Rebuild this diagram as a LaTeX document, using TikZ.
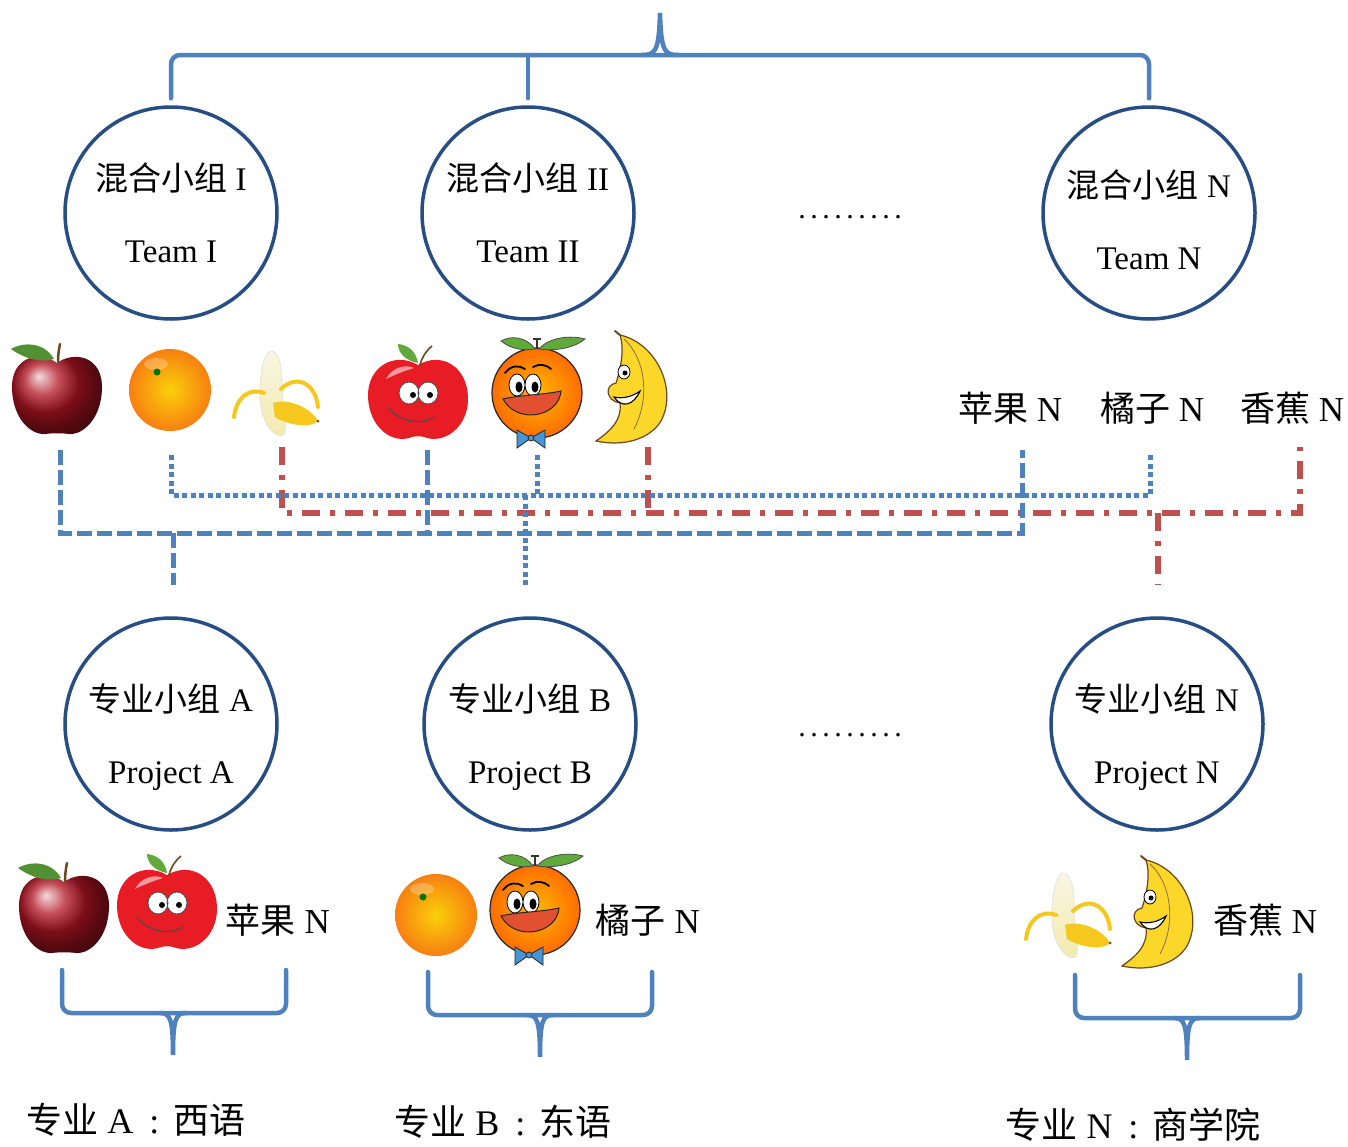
\documentclass[tikz,border=0pt]{standalone}
\usepackage{fontspec}
\setmainfont{Liberation Serif}
\newfontfamily\cjk{Noto Sans CJK SC}

\definecolor{ringblue}{RGB}{38,78,132}
\definecolor{lineblue}{RGB}{79,129,189}
\definecolor{linered}{RGB}{192,80,77}
\definecolor{applered}{RGB}{178,20,34}
\definecolor{toonred}{RGB}{232,28,36}
\definecolor{leafgreen}{RGB}{96,170,60}
\definecolor{stembrown}{RGB}{110,70,30}
\definecolor{orangeskin}{RGB}{245,150,20}
\definecolor{cream}{RGB}{240,232,190}
\definecolor{peelyellow}{RGB}{246,200,30}
\definecolor{bananayellow}{RGB}{250,215,40}
\definecolor{mouthred}{RGB}{226,80,50}
\definecolor{bowblue}{RGB}{70,150,215}

\newcommand{\ellipsisrow}{.\kern4.5pt.\kern4.5pt.\kern4.5pt.\kern4.5pt.\kern4.5pt.\kern4.5pt.\kern4.5pt.\kern4.5pt.}
\newcommand{\majorcolon}{\hspace{16pt}:\hspace{14pt}}

\tikzset{
  ring/.style={circle, draw=ringblue, line width=3.5pt, minimum size=212pt,
    inner sep=0pt, align=center, font=\fontsize{33}{72}\selectfont},
  brace/.style={draw=lineblue, line width=4.5pt, line cap=round,
    line join=round, rounded corners=9pt},
  spike/.style={draw=lineblue, line width=4.5pt, line cap=round},
  bluedash/.style={draw=lineblue, line width=5pt, dash pattern=on 15pt off 5pt},
  bluedot/.style={draw=lineblue, line width=5pt, dash pattern=on 5pt off 3.5pt},
  reddashdot/.style={draw=linered, line width=5.5pt,
    dash pattern=on 18pt off 10pt on 5pt off 10pt},
  fruitname/.style={font=\fontsize{35}{40}\selectfont, inner sep=0pt},
  major/.style={font=\fontsize{36}{40}\selectfont, inner sep=0pt},
  gapdots/.style={font=\fontsize{30}{30}\selectfont, inner sep=0pt, anchor=base},
  % glossy red apple with stalk and leaf
  realapple/.pic={
    \shade[ball color=applered] (0,-30) .. controls (-16,-42) and (-46,-38) .. (-45,-4)
      .. controls (-44,26) and (-26,42) .. (-12,41) .. controls (-5,40) and (5,40) .. (12,41)
      .. controls (26,42) and (44,26) .. (45,-4) .. controls (46,-38) and (16,-42) .. (0,-30) -- cycle;
    \draw[stembrown, line width=2.5pt, line cap=round] (1,-31) .. controls (1,-38) and (2,-44) .. (3,-49);
    \fill[leafgreen!85!black] (-3,-34) .. controls (-12,-50) and (-32,-52) .. (-46,-44)
      .. controls (-32,-34) and (-16,-30) .. (-3,-34) -- cycle;
  },
  % whole orange
  realorange/.pic={
    \shade[inner color=yellow!55!orangeskin, outer color=orangeskin!85!red] (0,0) circle (41);
    \fill[white, opacity=0.25] (-14,-26) ellipse (12 and 6);
    \fill[green!45!black] (-13,-18) circle (3.5);
  },
  % half-peeled banana
  peeledbanana/.pic={
    \shade[top color=cream!40!white, bottom color=cream!90!yellow, draw=black!12, line width=0.6pt]
      (-6,-42) .. controls (2,-43) and (6,-30) .. (6,-10) .. controls (6,12) and (12,32) .. (8,42)
      .. controls (-2,46) and (-14,30) .. (-16,8) .. controls (-17,-14) and (-14,-36) .. (-6,-42) -- cycle;
    \draw[peelyellow, line width=4pt, line cap=round] (-12,0) .. controls (-28,-6) and (-40,6) .. (-42,24);
    \draw[peelyellow, line width=4pt, line cap=round] (5,-4) .. controls (19,-18) and (39,-12) .. (42,14);
    \fill[peelyellow] (-3,10) .. controls (12,5) and (34,14) .. (42,28)
      .. controls (34,36) and (12,32) .. (-1,24) -- cycle;
    \fill[stembrown] (42,28) circle (1.5);
  },
  % cartoon apple with a face
  toonapple/.pic={
    \fill[toonred] (0,-32) .. controls (-24,-46) and (-51,-30) .. (-50,0)
      .. controls (-49,30) and (-26,48) .. (-6,40) .. controls (-3,39) and (3,39) .. (6,40)
      .. controls (26,48) and (51,30) .. (50,0) .. controls (49,-30) and (24,-46) .. (0,-32) -- cycle;
    \fill[white, opacity=0.55] (-32,-18) .. controls (-26,-30) and (-12,-33) .. (-4,-29)
      .. controls (-14,-26) and (-24,-22) .. (-32,-18) -- cycle;
    \filldraw[fill=white, draw=black!70, line width=0.8pt] (-9,-4) ellipse (10 and 11) (10,-4) ellipse (10 and 11);
    \fill[black] (-5,-2) circle (3) (12,-2) circle (3);
    \draw[black!70, line width=1.2pt, line cap=round] (-30,10) .. controls (-18,26) and (4,28) .. (16,20);
    \draw[stembrown, line width=1.6pt] (2,-32) .. controls (4,-40) and (8,-46) .. (14,-51);
    \fill[leafgreen] (0,-34) .. controls (-2,-46) and (-10,-52) .. (-20,-53)
      .. controls (-20,-44) and (-12,-36) .. (0,-34) -- cycle;
  },
  % cartoon orange with leaves and bow tie
  toonorange/.pic={
    \shade[inner color=yellow!45!orange, outer color=orange!85!red] (0,0) circle (45);
    \draw[black!85, line width=1.2pt] (0,0) circle (45);
    \draw[black!80, line width=1.2pt] (0,-44) -- (0,-54) (-4,-54) -- (4,-54);
    \filldraw[fill=leafgreen, draw=black!70, line width=0.8pt] (-2,-44) .. controls (-10,-56) and (-26,-58) .. (-36,-52)
      .. controls (-26,-44) and (-14,-42) .. (-2,-44) -- cycle;
    \filldraw[fill=leafgreen, draw=black!70, line width=0.8pt] (2,-44) .. controls (12,-56) and (34,-58) .. (48,-54)
      .. controls (36,-44) and (16,-42) .. (2,-44) -- cycle;
    \draw[black, line width=1.8pt, line cap=round] (-32,-20) .. controls (-26,-28) and (-18,-28) .. (-12,-24);
    \draw[black, line width=1.8pt, line cap=round] (-4,-26) .. controls (2,-30) and (10,-28) .. (14,-24);
    \filldraw[fill=white, draw=black, line width=0.8pt] (-20,-8) ellipse (8 and 11) (-4,-8) ellipse (8 and 11);
    \fill[black] (-18,-6) ellipse (3.5 and 5.5) (-2,-6) ellipse (3.5 and 5.5);
    \filldraw[fill=mouthred, draw=black!85, line width=1pt] (-34,6) .. controls (-18,2) and (6,2) .. (24,-2)
      .. controls (22,24) and (-20,32) .. (-34,6) -- cycle;
    \filldraw[fill=bowblue, draw=black!85, line width=0.8pt] (-6,45) -- (-20,37) -- (-20,55) -- cycle
      (-6,45) -- (8,37) -- (8,55) -- cycle;
    \filldraw[fill=bowblue, draw=black!85, line width=0.8pt] (-6,45) circle (3);
  },
  % cartoon banana with a face
  toonbanana/.pic={
    \filldraw[fill=bananayellow, draw=stembrown, line width=1.2pt] (-12,-54) .. controls (24,-46) and (46,0) .. (29,32)
      .. controls (18,50) and (-8,58) .. (-36,52) .. controls (-22,42) and (-10,32) .. (-12,14)
      .. controls (-26,12) and (-28,-4) .. (-16,-6) .. controls (-10,-24) and (-8,-42) .. (-12,-54) -- cycle;
    \draw[stembrown!80, line width=0.8pt] (-8,-50) .. controls (14,-30) and (18,10) .. (2,40);
    \filldraw[fill=white, draw=black, line width=0.8pt] (-8,-17) ellipse (6 and 7);
    \fill[black] (-7,-16) circle (2.5);
    \filldraw[fill=white, draw=black, line width=1.1pt] (-18,8) .. controls (-10,20) and (2,16) .. (8,2)
      .. controls (0,8) and (-10,10) .. (-18,8) -- cycle;
    \draw[stembrown, line width=2pt, line cap=round] (-12,-54) -- (-17,-58);
  },
}

\begin{document}
\begin{tikzpicture}[x=1pt, y=-1pt]
  \useasboundingbox (0,0) rectangle (1348,1146);
  \fill[white] (0,0) rectangle (1348,1146);

  % ---- mixed teams ----
  \node[ring] (t1) at (171,213) {{\cjk 混合小组} I\\Team I};
  \node[ring] (t2) at (528,213) {{\cjk 混合小组} II\\Team II};
  \node[ring] (tn) at (1149,213) {\rule{0pt}{41pt}{\cjk 混合小组} N\\Team N};
  \node[gapdots] (tdots) at (850,218) {\ellipsisrow};

  % top brace gathering the teams
  \coordinate (hub) at (660,13);
  \draw[brace] ([yshift=7pt]t1.north) -- (t1.north |- 0,55) -- (tn.north |- 0,55) -- ([yshift=7pt]tn.north);
  \draw[brace] ([yshift=7pt]t2.north) -- (t2.north |- 0,55);
  \draw[spike] (642,55) .. controls (655,55) and (659,52) .. (hub) .. controls (661,52) and (665,55) .. (678,55);

  % ---- fruits under the teams ----
  \pic at (57,393) {realapple};
  \pic at (170,390) {realorange};
  \pic at (276,393) {peeledbanana};
  \pic at (418,397) {toonapple};
  \pic at (537,393) {toonorange};
  \pic at (632,389) {toonbanana};
  \node[fruitname] (nA) at (1010,408) {{\cjk 苹果} N};
  \node[fruitname] (nO) at (1152,408) {{\cjk 橘子} N};
  \node[fruitname] (nB) at (1292,408) {{\cjk 香蕉} N};

  % ---- specialist projects ----
  \node[ring] (p1) at (171,724) {\rule{0pt}{53pt}{\cjk 专业小组} A\\Project A};
  \node[ring] (p2) at (530,724) {\rule{0pt}{53pt}{\cjk 专业小组} B\\Project B};
  \node[ring] (pn) at (1157,724) {\rule{0pt}{53pt}{\cjk 专业小组} N\\Project N};
  \node[gapdots] (pdots) at (850,736) {\ellipsisrow};

  % tap points below each fruit
  \coordinate (apA) at (60,450);
  \coordinate (apB) at (427,450);
  \coordinate (apN) at (1022,450);
  \coordinate (orA) at (171,455);
  \coordinate (orB) at (537,455);
  \coordinate (orN) at (1150,455);
  \coordinate (baA) at (282,447);
  \coordinate (baB) at (648,447);
  \coordinate (baN) at (1300,447);

  % bananas -> project N
  \draw[reddashdot] (baA) |- (baN |- 0,513) -- (baN);
  \draw[reddashdot] (baB) -- (baB |- 0,513);
  \draw[reddashdot] (1158,513) -- ([yshift=31pt]pn.north -| 1158,0);
  % oranges -> project B
  \draw[bluedot] (orA) |- (orN |- 0,495) -- (orN);
  \draw[bluedot] (orB) -- (orB |- 0,495);
  \draw[bluedot] (525,495) -- ([yshift=31pt]p2.north -| 525,0);
  % apples -> project A
  \draw[bluedash] (apA) |- (apN |- 0,533) -- (apN);
  \draw[bluedash] (apB) -- (apB |- 0,533);
  \draw[bluedash] (173,533) -- ([yshift=31pt]p1.north -| 173,0);

  % ---- fruits under the projects ----
  \pic at (64,912) {realapple};
  \pic at (167,907) {toonapple};
  \node[fruitname] (mA) at (278,920) {{\cjk 苹果} N};
  \pic at (436,915) {realorange};
  \pic at (535,910) {toonorange};
  \node[fruitname] (mO) at (648,920) {{\cjk 橘子} N};
  \pic at (1068,915) {peeledbanana};
  \pic at (1158,914) {toonbanana};
  \node[fruitname] (mB) at (1265,920) {{\cjk 香蕉} N};

  % ---- majors ----
  \node[major] (jA) at (136,1120) {{\cjk 专业} A\majorcolon{\cjk 西语}};
  \node[major] (jB) at (503,1122) {{\cjk 专业} B\majorcolon{\cjk 东语}};
  \node[major] (jN) at (1133,1125) {{\cjk 专业} N\majorcolon{\cjk 商学院}};

  % bottom braces
  \coordinate (kA) at (173,1055);
  \coordinate (kB) at (540,1057);
  \coordinate (kN) at (1187,1060);
  \draw[brace] (62,970) -- (62,1013) -- (286,1013) -- (286,970);
  \draw[spike] (160,1013) .. controls (170,1013) and (173,1018) .. (kA) .. controls (173,1018) and (176,1013) .. (186,1013);
  \draw[brace] (428,972) -- (428,1015) -- (652,1015) -- (652,972);
  \draw[spike] (527,1015) .. controls (537,1015) and (540,1020) .. (kB) .. controls (540,1020) and (543,1015) .. (553,1015);
  \draw[brace] (1075,975) -- (1075,1018) -- (1300,1018) -- (1300,975);
  \draw[spike] (1174,1018) .. controls (1184,1018) and (1187,1023) .. (kN) .. controls (1187,1023) and (1190,1018) .. (1200,1018);
\end{tikzpicture}
\end{document}
